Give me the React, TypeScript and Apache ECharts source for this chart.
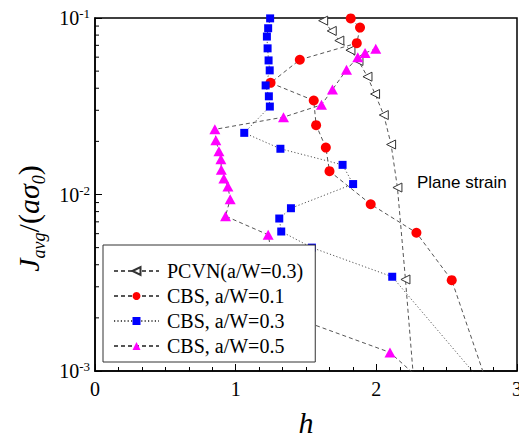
import React, { useEffect, useRef } from "react";
import * as echarts from "echarts";

// PCVN (a/W=0.3)
const pcvnH = [1.564, 1.622, 1.683, 1.737, 1.816, 1.873, 1.937, 1.991, 2.053, 2.105, 2.15, 2.207, 2.27];
const pcvnJ = [0.11, 0.0966, 0.0845, 0.0745, 0.0657, 0.0571, 0.0465, 0.0371, 0.0282, 0.0192, 0.01095, 0.0033, 0.0008];
// CBS a/W=0.1
const cbs1H = [1.818, 1.884, 1.861, 1.456, 1.248, 1.555, 1.572, 1.641, 1.667, 1.96, 2.285, 2.536, 2.798];
const cbs1J = [0.0995, 0.0882, 0.072, 0.058, 0.0429, 0.0341, 0.0247, 0.01845, 0.01356, 0.00881, 0.00607, 0.00327, 0.0008];
// CBS a/W=0.3
const cbs3H = [1.245, 1.231, 1.222, 1.227, 1.234, 1.242, 1.213, 1.236, 1.243, 1.061, 1.318, 1.76, 1.835, 1.393, 1.31, 1.324, 1.542, 2.113, 2.785];
const cbs3J = [0.0995, 0.0875, 0.0785, 0.0673, 0.0575, 0.0505, 0.0415, 0.036, 0.0315, 0.02235, 0.01816, 0.01472, 0.01146, 0.00836, 0.00731, 0.00617, 0.005, 0.00342, 0.0008];
// CBS a/W=0.5
const cbs5H = [1.996, 1.92, 1.868, 1.788, 1.688, 1.61, 1.34, 0.852, 0.859, 0.881, 0.895, 0.898, 0.916, 0.945, 0.961, 0.928, 1.231, 1.335, 2.097, 2.38];
const cbs5J = [0.0669, 0.0633, 0.0599, 0.0509, 0.0393, 0.0322, 0.02743, 0.02339, 0.02028, 0.01758, 0.01584, 0.0138, 0.01234, 0.01109, 0.0094, 0.00754, 0.00591, 0.00212, 0.001274, 0.0008];

const seriesNames = ["PCVN(a/W=0.3)", "CBS, a/W=0.1", "CBS, a/W=0.3", "CBS, a/W=0.5"];
const yMinorTicks = [0.002, 0.003, 0.004, 0.005, 0.006, 0.007, 0.008, 0.009, 0.02, 0.03, 0.04, 0.05, 0.06, 0.07, 0.08, 0.09];

const SERIF = "Liberation Serif";
const LINE = "#555";

const zip = (xs: number[], ys: number[]) => xs.map((x, i) => [x, ys[i]]);

export default function App() {
  const ref = useRef<HTMLDivElement>(null);
  useEffect(() => {
    if (!ref.current) return;
    const chart = echarts.init(ref.current, null, { renderer: "svg" });
    chart.setOption({
      animation: false,
      backgroundColor: "#fff",
      textStyle: { fontFamily: SERIF },
      grid: { left: 95, top: 18, right: 10, bottom: 69, show: true, borderColor: "#000", borderWidth: 1.5, backgroundColor: "transparent" },
      xAxis: {
        type: "value",
        min: 0,
        max: 3,
        interval: 1,
        name: "h",
        nameLocation: "middle",
        nameGap: 36,
        nameTextStyle: { fontFamily: SERIF, fontSize: 30, fontStyle: "italic", color: "#000" },
        axisLine: { lineStyle: { color: "#000", width: 1.5 } },
        axisTick: { inside: true, length: 7, lineStyle: { color: "#000" } },
        minorTick: { show: true, splitNumber: 6, length: 4, lineStyle: { color: "#000" } },
        splitLine: { show: false },
        axisLabel: { margin: 8, fontFamily: SERIF, fontSize: 20, color: "#000" },
      },
      yAxis: {
        type: "log",
        logBase: 10,
        min: 0.001,
        max: 0.1,
        name: "{J|J}{sub|avg}{n|/(}{i|aσ}{sub|0}{n|)}",
        nameLocation: "middle",
        nameRotate: 90,
        nameGap: 50,
        nameTextStyle: {
          fontFamily: SERIF,
          fontSize: 30,
          fontStyle: "italic",
          color: "#000",
          padding: [0, 48, 0, 0],
          rich: {
            J: { fontFamily: SERIF, fontSize: 30, fontStyle: "italic", color: "#000", lineHeight: 30, verticalAlign: "top" },
            i: { fontFamily: SERIF, fontSize: 30, fontStyle: "italic", color: "#000", lineHeight: 30, verticalAlign: "top" },
            n: { fontFamily: SERIF, fontSize: 30, fontStyle: "normal", color: "#000", lineHeight: 30, verticalAlign: "top" },
            sub: { fontFamily: SERIF, fontSize: 18, fontStyle: "italic", color: "#000", lineHeight: 18, verticalAlign: "top", padding: [17, 0, 0, 0] },
          },
        },
        axisLine: { lineStyle: { color: "#000", width: 1.5 } },
        axisTick: { inside: true, length: 7, lineStyle: { color: "#000" } },
        splitLine: { show: false },
        axisLabel: {
          margin: 5,
          fontFamily: SERIF,
          fontSize: 20,
          color: "#000",
          formatter: (v: number) => `{b|10}{s|${Math.round(Math.log10(v))}}`,
          rich: {
            b: { fontFamily: SERIF, fontSize: 20, color: "#000", lineHeight: 22, verticalAlign: "middle" },
            s: { fontFamily: SERIF, fontSize: 13, color: "#000", lineHeight: 13, verticalAlign: "top" },
          },
        },
      },
      legend: {
        data: seriesNames,
        orient: "vertical",
        left: 103,
        top: 245,
        padding: [16, 12, 6, 10],
        itemWidth: 45,
        itemHeight: 10,
        itemGap: 5,
        backgroundColor: "#fff",
        borderColor: "#333",
        borderWidth: 1,
        borderRadius: 0,
        textStyle: { fontFamily: SERIF, fontSize: 20, color: "#000", lineHeight: 20, padding: [0, 0, 0, 3] },
      },
      graphic: [
        {
          type: "text",
          x: 417,
          y: 182,
          style: { text: "Plane strain", font: "17px Liberation Sans", fill: "#000", align: "left", verticalAlign: "middle" },
        },
      ],
      series: [
        {
          name: seriesNames[0],
          type: "line",
          data: zip(pcvnH, pcvnJ),
          symbol: "triangle",
          symbolRotate: 90,
          symbolSize: 9,
          itemStyle: { color: "#fff", borderColor: "#333", borderWidth: 1 },
          lineStyle: { color: LINE, width: 1, type: [4, 3] },
          z: 3,
        },
        {
          name: seriesNames[1],
          type: "line",
          data: zip(cbs1H, cbs1J),
          symbol: "circle",
          symbolSize: 10,
          itemStyle: { color: "#ff0000", borderWidth: 0 },
          lineStyle: { color: LINE, width: 1, type: [4, 3] },
          z: 3,
        },
        {
          name: seriesNames[2],
          type: "line",
          data: zip(cbs3H, cbs3J),
          symbol: "rect",
          symbolSize: 8,
          itemStyle: { color: "#0000ff", borderWidth: 0 },
          lineStyle: { color: LINE, width: 1, type: [1.2, 2.2] },
          z: 3,
        },
        {
          name: seriesNames[3],
          type: "line",
          data: zip(cbs5H, cbs5J),
          symbol: "triangle",
          symbolSize: [11, 10],
          itemStyle: { color: "#ff00ff", borderWidth: 0 },
          lineStyle: { color: LINE, width: 1, type: [4, 3] },
          z: 3,
        },
        {
          name: "minorTicks",
          type: "custom",
          silent: true,
          data: yMinorTicks.map((v) => [0, v]),
          renderItem: (_params: any, api: any) => {
            const p = api.coord([api.value(0), api.value(1)]);
            return {
              type: "line",
              shape: { x1: p[0], y1: p[1], x2: p[0] + 4, y2: p[1] },
              style: { stroke: "#000", lineWidth: 1 },
            };
          },
          z: 5,
        },
      ],
    });
    return () => chart.dispose();
  }, []);
  return <div ref={ref} style={{ width: 527, height: 442, margin: -8 }} />;
}
